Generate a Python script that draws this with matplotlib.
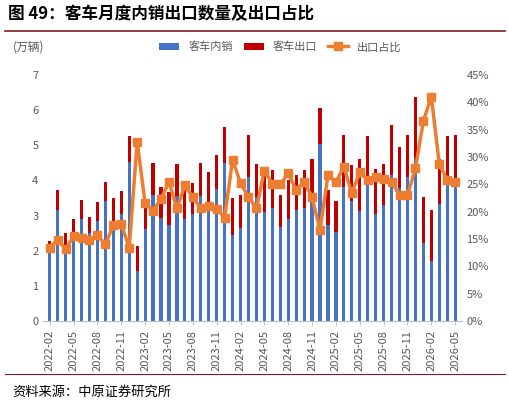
import matplotlib.pyplot as plt
import matplotlib.lines as mlines
import numpy as np
import pandas as pd

plt.rcParams['font.family'] = ['Noto Sans CJK SC', 'DejaVu Sans']

# --- data (万辆, %) ---
months = pd.period_range('2022-02', '2026-05', freq='M').strftime('%Y-%m').tolist()
domestic = [2.0, 3.16, 2.0, 2.33, 2.9, 2.5, 2.85, 3.4, 2.75, 3.05, 4.53, 1.42, 2.62,
            3.59, 2.94, 2.74, 3.55, 2.89, 3.05, 3.56, 3.29, 3.76, 4.5, 2.46, 2.65, 4.1,
            3.54, 3.1, 3.21, 2.67, 2.91, 3.17, 3.21, 3.48, 5.04, 2.74, 2.54, 3.8, 3.41,
            3.13, 3.95, 3.05, 3.29, 4.14, 3.79, 4.09, 4.62, 2.22, 1.7, 3.32, 3.9, 3.9]
total = [2.29, 3.73, 2.5, 2.89, 3.45, 2.96, 3.38, 3.95, 3.5, 3.7, 5.25, 2.12, 3.35,
         4.5, 3.8, 3.66, 4.47, 3.9, 3.93, 4.5, 4.24, 4.72, 5.52, 3.5, 3.57, 5.3,
         4.47, 4.26, 4.3, 3.57, 4.0, 4.16, 4.3, 4.6, 6.05, 3.73, 3.41, 5.3, 4.45,
         4.62, 5.27, 4.33, 4.46, 5.57, 4.95, 5.3, 6.38, 3.52, 3.15, 4.6, 5.27, 5.29]
export = [t - d for t, d in zip(total, domestic)]
share = [13.4, 14.9, 13.1, 15.5, 15.1, 14.8, 15.7, 14.0, 17.5, 17.7, 13.4, 32.8, 21.5,
         20.1, 22.4, 25.4, 20.6, 24.8, 22.6, 20.6, 21.0, 20.5, 18.9, 29.5, 25.2, 22.7,
         20.6, 27.5, 25.1, 25.0, 27.0, 23.9, 25.5, 22.6, 16.6, 26.7, 25.4, 28.2, 23.4,
         27.2, 25.8, 26.3, 26.0, 25.5, 23.0, 23.1, 27.9, 36.6, 41.0, 28.7, 25.8, 25.5]

blue, red, orange = '#4472C4', '#C00000', '#ED7D31'

fig = plt.figure(figsize=(5.10, 4.09), dpi=100)
ax = fig.add_axes([0.085, 0.215, 0.82, 0.602])
x = np.arange(len(months))
ax.bar(x, domestic, width=0.4, color=blue, label='客车内销')
ax.bar(x, export, width=0.4, bottom=domestic, color=red, label='客车出口')
ax.set_ylim(0, 7)
ax.set_xlim(-0.8, len(months) - 0.2)
ax.set_xticks(x[::3])
ax.set_xticklabels(months[::3], rotation=90, fontsize=8, color='#595959')
ax.tick_params(axis='y', labelsize=8, colors='#595959', length=0)
ax.tick_params(axis='x', length=3, color='#bfbfbf')
for s in ['top', 'right', 'left']:
    ax.spines[s].set_visible(False)
ax.spines['bottom'].set_color('#bfbfbf')

ax2 = ax.twinx()
ax2.plot(x, share, color=orange, lw=2.5, marker='s', ms=6, label='出口占比')
ax2.set_ylim(0, 45)
ax2.set_yticks(range(0, 46, 5))
ax2.set_yticklabels([f'{v}%' for v in range(0, 46, 5)])
ax2.tick_params(axis='y', labelsize=8, colors='#595959', length=0)
for s in ['top', 'right', 'left', 'bottom']:
    ax2.spines[s].set_visible(False)

h1, l1 = ax.get_legend_handles_labels()
h2, l2 = ax2.get_legend_handles_labels()
fig.legend(h1 + h2, l1 + l2, loc='center', bbox_to_anchor=(0.55, 0.885), ncol=3,
           frameon=False, fontsize=8, handlelength=1.8, columnspacing=1.0,
           labelcolor='#595959')

fig.text(0.025, 0.885, '(万辆)', fontsize=8.5, color='#595959', va='center')
fig.text(0.015, 0.965, '图 49：客车月度内销出口数量及出口占比', fontsize=12,
         fontweight='bold', va='center')
fig.add_artist(mlines.Line2D([0.01, 0.99], [0.925, 0.925], color='#7f1d1d', lw=1.2))
fig.add_artist(mlines.Line2D([0.01, 0.99], [0.085, 0.085], color='#7f1d1d', lw=0.8))
fig.text(0.025, 0.04, '资料来源：中原证券研究所', fontsize=9.5, va='center')

fig.savefig('out.png', dpi=100)
